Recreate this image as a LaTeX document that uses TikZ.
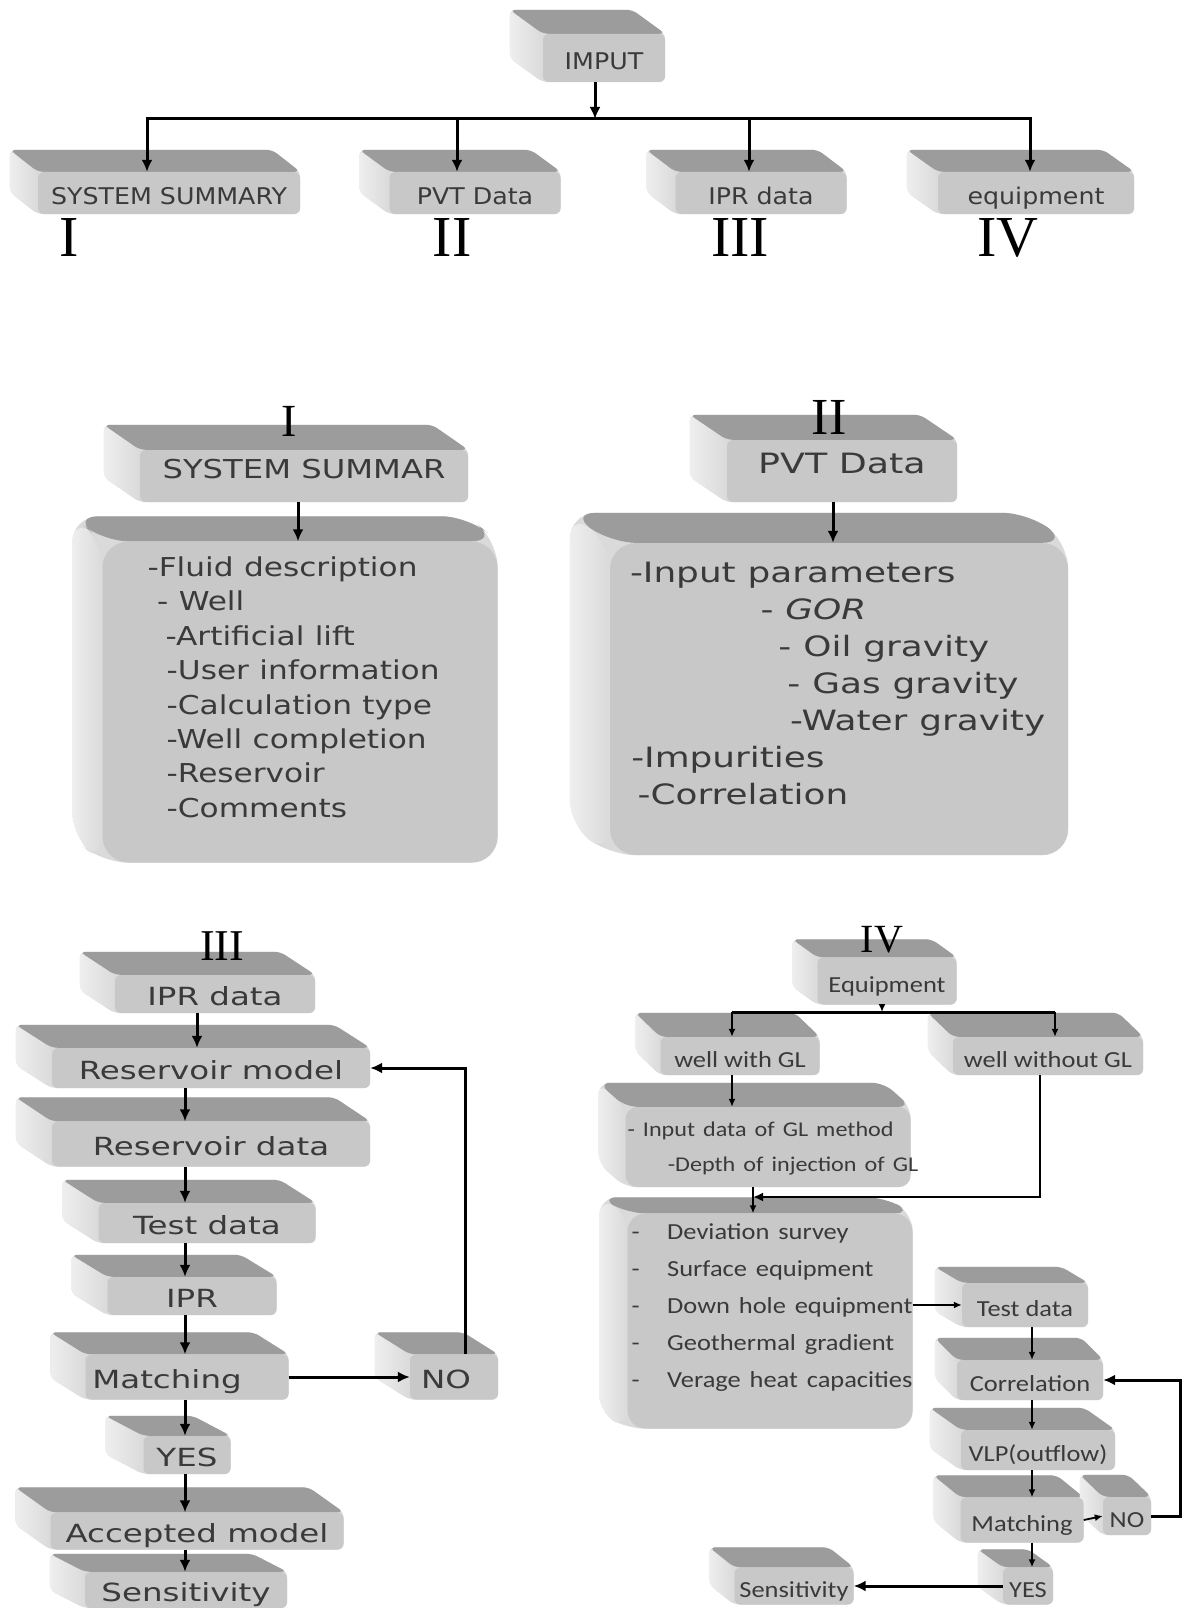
\documentclass[tikz,border=0pt]{standalone}
\usepackage{fontspec}
\usepackage{graphicx}
\usetikzlibrary{arrows.meta,backgrounds}
\setmainfont{DejaVu Sans}
\newfontfamily\calibfont{Carlito}
\newfontfamily\numfont{Liberation Serif}
\definecolor{facegray}{RGB}{200,200,200}
\definecolor{topgray}{RGB}{156,156,156}
\definecolor{sidegray}{RGB}{218,218,218}
\definecolor{inkgray}{RGB}{58,58,58}
\newcommand{\wtxt}[2]{\scalebox{#1}[1]{#2}}

\begin{document}
\begin{tikzpicture}[x=1pt,y=-1pt]
    \tikzstyle{slab} = [rectangle, rounded corners=6pt, fill=facegray, inner sep=0pt, text=inkgray]
    \tikzstyle{block} = [slab, text height=24pt, text depth=1pt]
    \tikzstyle{toprow} = [block, font=\fontsize{23}{27}\selectfont]
    \tikzstyle{midrow} = [slab, text height=.72em, text depth=.2em, font=\fontsize{26}{31}\selectfont]
    \tikzstyle{iiirow} = [block, font=\fontsize{25}{30}\selectfont]
    \tikzstyle{ivrow} = [block, font=\calibfont\fontsize{23}{27}\selectfont]
    \tikzstyle{numeral} = [inner sep=0pt, font=\numfont\fontsize{58}{60}\selectfont]
    \tikzstyle{arr} = [line width=3pt, -{Latex[length=12pt,width=11pt]}]
    \tikzstyle{arrmid} = [line width=2.5pt, -{Latex[length=10pt,width=9pt]}]
    \tikzstyle{arrsmall} = [line width=1.8pt, -{Latex[length=8pt,width=7pt]}]

    \useasboundingbox (0,0) rectangle (1183,1608);

    % input and its four groups
    \node[toprow, minimum width=122, minimum height=48] (imput) at (604,58) {\wtxt{1.1}{IMPUT}};
    \node[toprow, minimum width=262, minimum height=42] (sys1) at (169,193) {\wtxt{1.1}{SYSTEM SUMMARY}};
    \node[toprow, minimum width=171, minimum height=42] (pvt1) at (475,193) {\wtxt{1.1}{PVT Data}};
    \node[toprow, minimum width=171, minimum height=42] (ipr1) at (761,193) {\wtxt{1.1}{IPR data}};
    \node[toprow, minimum width=196, minimum height=42] (equip1) at (1036,193) {\wtxt{1.1}{equipment}};

    \node[numeral] (numI) at (69,238) {I};
    \node[numeral] (numII) at (452,238) {II};
    \node[numeral] (numIII) at (740,238) {III};
    \node[numeral] (numIV) at (1008,238) {IV};

    % I and II
    \node[numeral, font=\numfont\fontsize{46}{48}\selectfont] (capI) at (289,421) {I};
    \node[midrow, minimum width=328, minimum height=52] (sys2) at (304,476) {\wtxt{1.24}{SYSTEM SUMMAR}};
    \node[slab, rounded corners=26pt, minimum height=321, text width=305, inner xsep=45pt, align=left,
          font=\fontsize{26}{34.4}\selectfont] (sysbody) at (300,702)
        {\noindent\wtxt{1.2}{\begin{tabular}{@{}l@{}}
          -Fluid description\\
          \hspace*{8pt}- Well\\
          \hspace*{15pt}-Artificial lift\\
          \hspace*{16pt}-User information\\
          \hspace*{16pt}-Calculation type\\
          \hspace*{16pt}-Well completion\\
          \hspace*{16pt}-Reservoir\\
          \hspace*{16pt}-Comments\\[24pt]
        \end{tabular}}};

    \node[numeral, font=\numfont\fontsize{52}{54}\selectfont] (capII) at (829,417) {II};
    \node[midrow, minimum width=230, minimum height=62, font=\fontsize{28}{33}\selectfont] (pvt2) at (842,471) {\wtxt{1.3}{PVT Data}};
    \node[slab, rounded corners=26pt, minimum height=312, text width=418, inner xsep=20pt, align=left,
          font=\fontsize{28}{37}\selectfont] (pvtbody) at (839,699)
        {\noindent\wtxt{1.28}{\begin{tabular}{@{}l@{}}
          -Input parameters\\
          \hspace*{102pt}- \textit{GOR}\\
          \hspace*{116pt}- Oil gravity\\
          \hspace*{123pt}- Gas gravity\\
          \hspace*{125pt}-Water gravity\\
          \hspace*{1pt}-Impurities\\
          \hspace*{6pt}-Correlation\\[26pt]
        \end{tabular}}};

    % III
    \node[numeral, font=\numfont\fontsize{44}{46}\selectfont] (capIII) at (222,946) {III};
    \node[iiirow, minimum width=200, minimum height=38] (ipr3) at (215,994) {\wtxt{1.3}{IPR data}};
    \node[iiirow, minimum width=318, minimum height=40] (resmod) at (211,1068) {\wtxt{1.3}{Reservoir model}};
    \node[iiirow, minimum width=318, minimum height=45] (resdat) at (211,1144) {\wtxt{1.3}{Reservoir data}};
    \node[iiirow, minimum width=217, minimum height=40] (test3) at (207,1223) {\wtxt{1.3}{Test data}};
    \node[iiirow, minimum width=169, minimum height=38] (ipr) at (192,1296) {\wtxt{1.3}{IPR}};
    \node[iiirow, minimum width=203, minimum height=45] (match3) at (187,1377) {\wtxt{1.3}{Matching}\hspace*{40pt}};
    \node[iiirow, minimum width=88, minimum height=45] (no3) at (454,1377) {\wtxt{1.3}{NO}\hspace*{16pt}};
    \node[iiirow, minimum width=87, minimum height=38] (yes3) at (187,1455) {\wtxt{1.3}{YES}};
    \node[iiirow, minimum width=293, minimum height=37] (accept) at (197,1531) {\wtxt{1.3}{Accepted model}};
    \node[iiirow, minimum width=202, minimum height=36] (sens3) at (186,1590) {\wtxt{1.3}{Sensitivity}};

    % IV
    \node[numeral, font=\numfont\fontsize{40}{42}\selectfont] (capIV) at (882,940) {IV};
    \node[ivrow, minimum width=139, minimum height=47] (equip4) at (887,981) {\wtxt{1.15}{Equipment}};
    \node[ivrow, minimum width=159, minimum height=38] (wgl) at (740,1056) {\wtxt{1.15}{well with GL}};
    \node[ivrow, minimum width=190, minimum height=38] (wogl) at (1048,1056) {\wtxt{1.15}{well without GL}};
    \node[slab, rounded corners=12pt, minimum height=80, text width=281, inner xsep=2pt, align=left,
          font=\calibfont\fontsize{21}{35}\selectfont] (gl) at (768,1147)
        {\noindent\wtxt{1.15}{\begin{tabular}{@{}l@{}}
          - Input data of GL method\\
          \hspace*{35pt}-Depth of injection of GL
        \end{tabular}}};
    \node[slab, rounded corners=18pt, minimum height=212, text width=277, inner xsep=4pt, align=left,
          font=\calibfont\fontsize{23}{37}\selectfont] (list) at (770,1321)
        {\noindent\wtxt{1.15}{\begin{tabular}{@{}l@{\hspace{24pt}}l@{}}
          - & Deviation survey\\
          - & Surface equipment\\
          - & Down hole equipment\\
          - & Geothermal gradient\\
          - & Verage heat capacities\\[30pt]
        \end{tabular}}};
    \node[ivrow, minimum width=126, minimum height=44] (test4) at (1025,1305) {\wtxt{1.15}{Test data}};
    \node[ivrow, minimum width=146, minimum height=40] (corr4) at (1030,1380) {\wtxt{1.15}{Correlation}};
    \node[ivrow, minimum width=154, minimum height=40] (vlp) at (1038,1450) {\wtxt{1.15}{VLP(outflow)}};
    \node[ivrow, minimum width=123, minimum height=45] (match4) at (1022,1520) {\wtxt{1.15}{Matching}};
    \node[ivrow, minimum width=48, minimum height=38] (no4) at (1127,1516) {\wtxt{1.15}{NO}};
    \node[ivrow, minimum width=50, minimum height=37] (yes4) at (1028,1586) {\wtxt{1.15}{YES}};
    \node[ivrow, minimum width=119, minimum height=37] (sens4) at (794,1586) {\wtxt{1.15}{Sensitivity}};

    % depth of the slabs
    \begin{scope}[on background layer]
        \foreach \n/\dx/\dy/\rad in {imput/33/24/6, sys1/28/22/6, pvt1/30/22/6, ipr1/29/22/6, equip1/31/22/6,
                sys2/36/25/6, pvt2/37/25/6, sysbody/30/25/26, pvtbody/40/30/26,
                ipr3/35/23/6, resmod/36/23/6, resdat/36/24/6, test3/36/23/6, ipr/36/22/6, match3/35/22/6,
                no3/35/22/6, yes3/38/20/6, accept/35/25/6, sens3/35/18/6,
                equip4/25/18/6, wgl/25/24/6, wogl/25/24/6, gl/27/24/12, list/28/16/18, test4/27/16/6,
                corr4/22/22/6, vlp/31/22/6, match4/27/22/6, no4/23/22/6, yes4/25/18/6, sens4/25/20/6}{
            \fill[sidegray, rounded corners=\rad pt] ([xshift=-\dx pt, yshift=\dy pt]\n.north west)
                -- ([xshift=-\dx pt, yshift=\dy pt]\n.north east) -- (\n.north east) -- (\n.south east)
                -- (\n.south west) -- ([xshift=-\dx pt, yshift=\dy pt]\n.south west) -- cycle;
            \shade[left color=white!55!sidegray, right color=sidegray, rounded corners=\rad pt]
                ([xshift=-\dx pt, yshift=\dy pt]\n.north west) -- (\n.north west) -- (\n.south west)
                -- ([xshift=-\dx pt, yshift=\dy pt]\n.south west) -- cycle;
            \fill[topgray, rounded corners=\rad pt] ([xshift=-\dx pt, yshift=\dy pt]\n.north west)
                -- ([xshift=-\dx pt, yshift=\dy pt]\n.north east) -- (\n.north east) -- (\n.north west) -- cycle;
        }
    \end{scope}

    % top connectors
    \coordinate (hub) at (595,119);
    \coordinate (b1) at (147,119);
    \coordinate (b2) at (457,119);
    \coordinate (b3) at (749,119);
    \coordinate (b4) at (1030,119);
    \draw[arr] (imput.south -| hub) -- (hub);
    \draw[arr] (hub) -| (b1 |- sys1.north);
    \draw[arr] (hub) -| (b2 |- pvt1.north);
    \draw[arr] (hub) -| (b3 |- ipr1.north);
    \draw[arr] (hub) -| (b4 |- equip1.north);

    \draw[arr] ([xshift=-6pt]sys2.south) -- ([xshift=-6pt]sys2.south |- sysbody.north);
    \draw[arr] ([xshift=-9pt]pvt2.south) -- ([xshift=-9pt]pvt2.south |- pvtbody.north);

    % III connectors
    \coordinate (c3) at (185,0);
    \draw[arr] ([xshift=-18pt]ipr3.south) -- ([xshift=-18pt]ipr3.south |- resmod.north);
    \foreach \a/\b in {resmod/resdat, resdat/test3, test3/ipr, ipr/match3, match3/yes3, yes3/accept, accept/sens3}
        \draw[arr] (\a.south -| c3) -- (\b.north -| c3);
    \draw[arr] (match3.east) -- (no3.west);
    \draw[arr] ([xshift=11pt]no3.north) |- (resmod.east);

    % IV connectors
    \coordinate (fork) at (882,1012);
    \coordinate (wl) at (732,1012);
    \coordinate (wr) at (1055,1012);
    \draw[arrsmall] (equip4.south -| fork) -- (fork);
    \draw[line width=3pt] (wl) -- (wr);
    \draw[arrsmall] (wl) -- (wl |- wgl.north);
    \draw[arrsmall] (wr) -- (wr |- wogl.north);
    \draw[arrsmall] (wgl.south -| wl) -- (gl.north -| wl);
    \coordinate (merge) at (753,1197);
    \draw[arrmid] ([xshift=-8pt]wogl.south) |- (merge);
    \draw[arrsmall] (gl.south -| merge) -- (list.north -| merge);
    \draw[arrsmall] (list.east |- test4.west) -- (test4.west);
    \coordinate (c4) at (1032,0);
    \foreach \a/\b in {test4/corr4, corr4/vlp, vlp/match4, match4/yes4}
        \draw[arrsmall] (\a.south -| c4) -- (\b.north -| c4);
    \draw[arrsmall] (match4.east) -- (no4.west);
    \coordinate (loop4) at (1180,1450);
    \draw[arr] (no4.east) -| (loop4) |- (corr4.east);
    \draw[arr] (yes4.west) -- (sens4.east);
\end{tikzpicture}
\end{document}
